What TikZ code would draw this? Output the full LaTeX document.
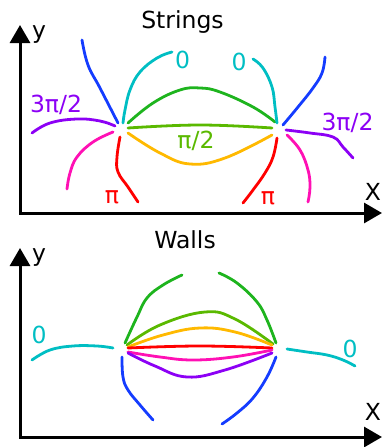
\documentclass[tikz,border=0pt]{standalone}
\usepackage{fontspec}
\setmainfont{DejaVu Sans}
\usetikzlibrary{arrows.meta}
\definecolor{cblue}{RGB}{20,60,255}
\definecolor{ccyan}{RGB}{0,190,195}
\definecolor{cdgreen}{RGB}{30,180,30}
\definecolor{clgreen}{RGB}{90,185,0}
\definecolor{cyellow}{RGB}{255,185,0}
\definecolor{cpurple}{RGB}{140,0,245}
\definecolor{cmagenta}{RGB}{255,16,180}
\definecolor{cred}{RGB}{255,0,0}
\tikzset{
  crv/.style={line width=2.8pt, line cap=round},
  axis/.style={line width=3pt, {Triangle[width=20pt,length=18pt]}-{Triangle[width=20pt,length=18pt]}},
  lbl/.style={inner sep=0pt, anchor=base, font=\fontsize{23.5}{28}\selectfont},
}
\begin{document}
\begin{tikzpicture}[x=1pt,y=-1pt]
\useasboundingbox (0,0) rectangle (382,447);
% ---------- Strings ----------
\node[lbl] (t1) at (182.5,28) {Strings};
\draw[axis] (20,25) |- (382,213);
\node[lbl] (y1) at (39,38) {y};
\node[lbl] (x1) at (373,200) {X};
% curves
\draw[crv,cblue] plot[smooth,tension=0.7] coordinates {(82,40) (88,65) (100,88) (118,123)};
\draw[crv,ccyan] plot[smooth,tension=0.7] coordinates {(172,52) (157,58) (140,72) (130,90) (125,110) (123,123)};
\draw[crv,cdgreen] plot[smooth,tension=0.7] coordinates {(128,123) (153,103) (180,90) (200,88) (220,92) (253,107) (275,122)};
\draw[crv,clgreen] plot[smooth,tension=0.7] coordinates {(128,128) (200,125) (272,128)};
\draw[crv,cyellow] plot[smooth,tension=0.7] coordinates {(128,133) (160,153) (190,164) (225,158) (272,135)};
\draw[crv,ccyan] plot[smooth,tension=0.7] coordinates {(253,59) (263,68) (272,87) (275,107) (277,123)};
\draw[crv,cblue] plot[smooth,tension=0.7] coordinates {(325,57) (322,73) (313,88) (298,107) (283,125)};
\draw[crv,cpurple] plot[smooth,tension=0.7] coordinates {(32,133) (50,123) (77,119) (100,121) (115,126)};
\draw[crv,cmagenta] plot[smooth,tension=0.7] coordinates {(113,132) (93,142) (77,157) (70,173) (67,189)};
\draw[crv,cred] plot[smooth,tension=0.7] coordinates {(120,137) (117,157) (118,172) (128,187) (138,202)};
\draw[crv,cred] plot[smooth,tension=0.7] coordinates {(277,138) (273,157) (265,173) (253,190) (243,203)};
\draw[crv,cmagenta] plot[smooth,tension=0.7] coordinates {(287,135) (300,150) (308,170) (310,187) (308,202)};
\draw[crv,cpurple] plot[smooth,tension=0.7] coordinates {(286,130) (310,133) (333,137) (343,147) (353,158)};
% labels
\node[lbl,text=ccyan] (z1) at (182.5,68) {0};
\node[lbl,text=ccyan] (z2) at (239,70) {0};
\node[lbl,text=cpurple] (p1) at (56,112) {3π/2};
\node[lbl,text=cpurple] (p2) at (347.5,130) {3π/2};
\node[lbl,text=clgreen] (h1) at (196,148) {π/2};
\node[lbl,text=cred] (r1) at (112,203) {π};
\node[lbl,text=cred] (r2) at (268,204) {π};
% ---------- Walls ----------
\node[lbl] (t2) at (185,248) {Walls};
\draw[axis] (20,248) |- (382,437);
\node[lbl] (y2) at (39,261) {y};
\node[lbl] (x2) at (373,420) {X};
\draw[crv,ccyan] plot[smooth,tension=0.7] coordinates {(32,360) (50,350) (73,346) (97,346) (113,348)};
\draw[crv,ccyan] plot[smooth,tension=0.7] coordinates {(287,349) (307,352) (327,355) (343,360) (355,366)};
\draw[crv,cdgreen] plot[smooth,tension=0.7] coordinates {(182,275) (163,285) (147,298) (137,317) (125,343)};
\draw[crv,cdgreen] plot[smooth,tension=0.7] coordinates {(219,273) (237,283) (257,302) (267,320) (276,343)};
\draw[crv,clgreen] plot[smooth,tension=0.7] coordinates {(127,345) (160,325) (205,312) (235,319) (273,344)};
\draw[crv,cyellow] plot[smooth,tension=0.7] coordinates {(128,347) (163,335) (200,328) (235,332) (272,345)};
\draw[crv,cred] plot[smooth,tension=0.7] coordinates {(128,348) (200,346) (272,348)};
\draw[crv,cmagenta] plot[smooth,tension=0.7] coordinates {(128,352) (160,357) (193,360) (233,357) (272,350)};
\draw[crv,cpurple] plot[smooth,tension=0.7] coordinates {(128,353) (155,366) (187,377) (225,370) (272,353)};
\draw[crv,cblue] plot[smooth,tension=0.7] coordinates {(122,357) (123,377) (128,390) (140,405) (153,420)};
\draw[crv,cblue] plot[smooth,tension=0.7] coordinates {(276,357) (267,377) (253,398) (237,413) (222,424)};
\node[lbl,text=ccyan] (z3) at (39,343) {0};
\node[lbl,text=ccyan] (z4) at (350,357) {0};
\end{tikzpicture}
\end{document}
